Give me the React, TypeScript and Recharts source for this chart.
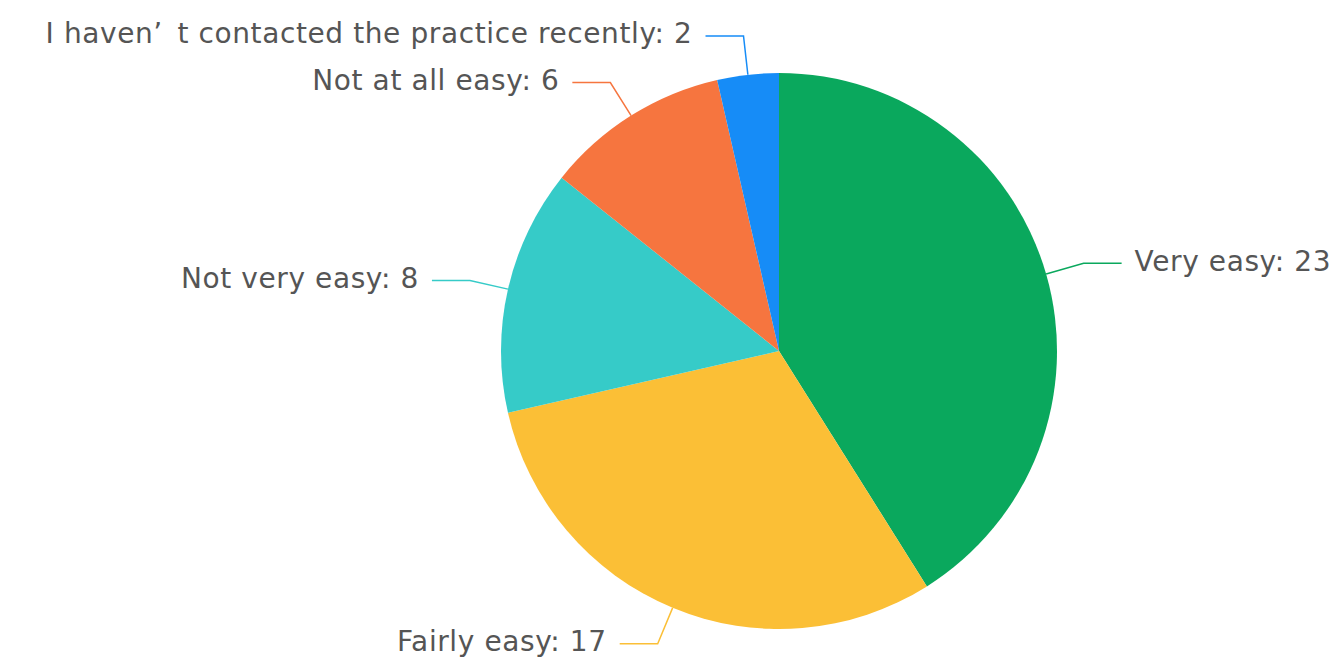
import { PieChart, Pie, Cell } from "recharts";

const categories = [
  "Very easy",
  "Fairly easy",
  "Not very easy",
  "Not at all easy",
  "I haven’\u2002t contacted the practice recently",
];
const counts = [23, 17, 8, 6, 2];
const sliceColors = ["#0aa85d", "#fbbf36", "#36cbc8", "#f6753f", "#168cf7"];

const RADIAN = Math.PI / 180;
const LINE_1 = 39;
const LINE_2 = 38;
const TEXT_GAP = 13;

const chartData = categories.map((name, i) => ({
  name,
  value: counts[i],
  color: sliceColors[i],
}));

const renderLabel = (props: any) => {
  const { cx, cy, midAngle, outerRadius, name, value, index } = props;
  const cos = Math.cos(-midAngle * RADIAN);
  const sin = Math.sin(-midAngle * RADIAN);
  const sx = cx + outerRadius * cos;
  const sy = cy + outerRadius * sin;
  const mx = cx + (outerRadius + LINE_1) * cos;
  const my = cy + (outerRadius + LINE_1) * sin;
  const right = cos >= 0;
  const ex = mx + (right ? LINE_2 : -LINE_2);
  const tx = ex + (right ? TEXT_GAP : -TEXT_GAP);
  const color = sliceColors[index];

  return (
    <g>
      <path
        d={`M${sx},${sy}L${mx},${my}L${ex},${my}`}
        stroke={color}
        strokeWidth={1.5}
        fill="none"
      />
      <text
        x={tx}
        y={my - 2}
        textAnchor={right ? "start" : "end"}
        dominantBaseline="central"
        fill="#555"
        fontSize={28}
        letterSpacing={0.6}
        fontFamily="'DejaVu Sans', sans-serif"
      >
        {`${name}: ${value}`}
      </text>
    </g>
  );
};

export default function App() {
  return (
    <div style={{ position: "absolute", left: 0, top: 0, background: "#fff" }}>
      <PieChart
        width={1340}
        height={669}
        margin={{ top: 0, right: 0, bottom: 0, left: 0 }}
      >
        <Pie
          data={chartData}
          dataKey="value"
          nameKey="name"
          cx={779}
          cy={351}
          outerRadius={278}
          startAngle={90}
          endAngle={-270}
          stroke="none"
          label={renderLabel}
          labelLine={false}
          isAnimationActive={false}
        >
          {chartData.map((d) => (
            <Cell key={d.name} fill={d.color} />
          ))}
        </Pie>
      </PieChart>
    </div>
  );
}
